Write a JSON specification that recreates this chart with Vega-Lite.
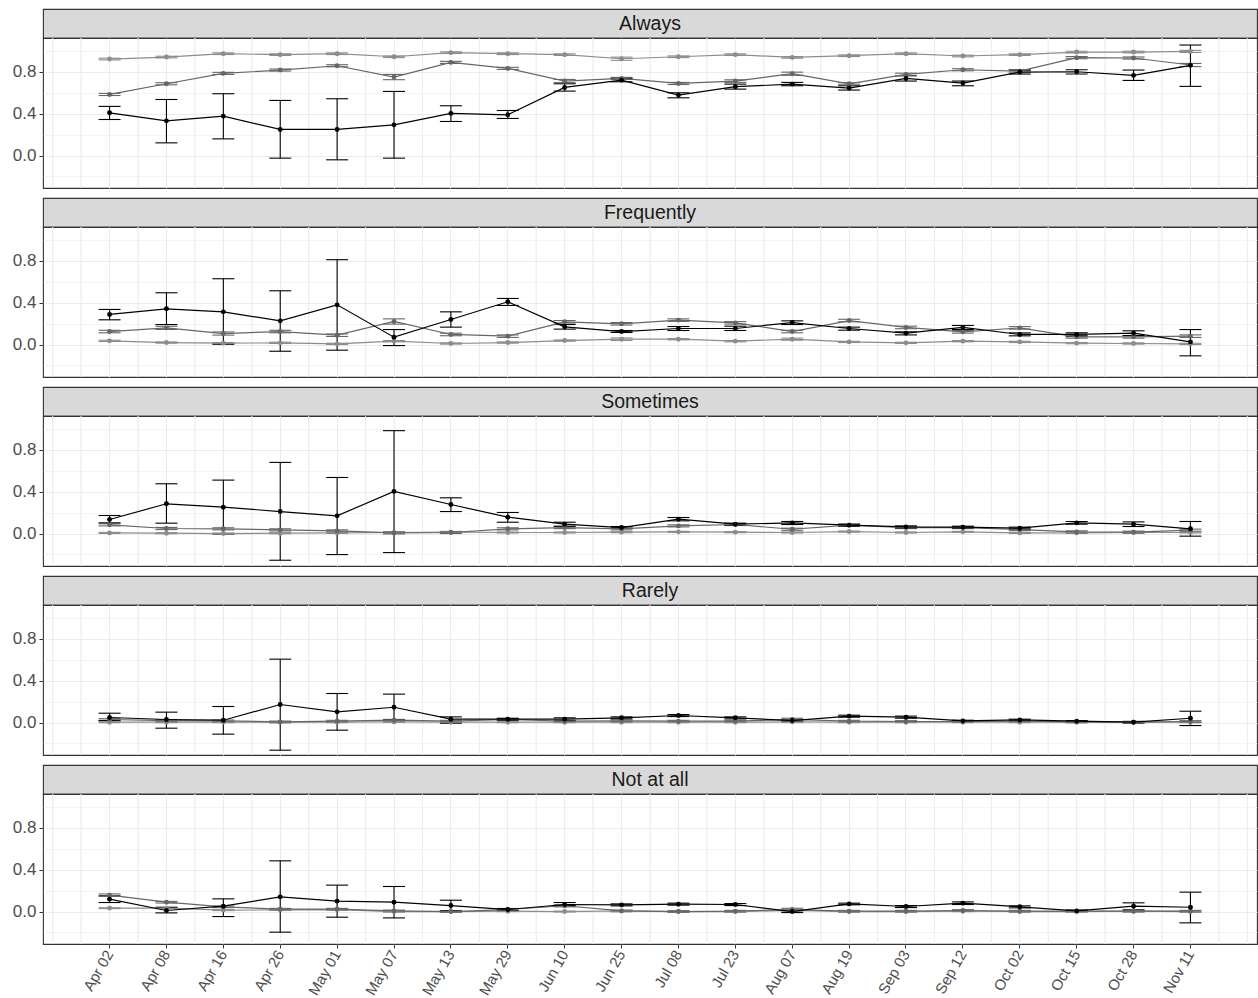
{
"$schema":"https://vega.github.io/schema/vega-lite/v6.json",
"autosize":{"type":"pad"},
"padding":{"left":11,"top":8,"right":1,"bottom":0},
"config":{"font":"Liberation Sans","view":{"stroke":null}},
"data":{"values":[
{"panel":"Always","date":"Apr 02","group":"s1","share":0.921,"lo":0.913,"hi":0.929},
{"panel":"Always","date":"Apr 08","group":"s1","share":0.940,"lo":0.932,"hi":0.948},
{"panel":"Always","date":"Apr 16","group":"s1","share":0.972,"lo":0.964,"hi":0.980},
{"panel":"Always","date":"Apr 26","group":"s1","share":0.963,"lo":0.955,"hi":0.971},
{"panel":"Always","date":"May 01","group":"s1","share":0.972,"lo":0.964,"hi":0.980},
{"panel":"Always","date":"May 07","group":"s1","share":0.943,"lo":0.935,"hi":0.951},
{"panel":"Always","date":"May 13","group":"s1","share":0.982,"lo":0.974,"hi":0.990},
{"panel":"Always","date":"May 29","group":"s1","share":0.972,"lo":0.964,"hi":0.980},
{"panel":"Always","date":"Jun 10","group":"s1","share":0.963,"lo":0.955,"hi":0.971},
{"panel":"Always","date":"Jun 25","group":"s1","share":0.924,"lo":0.909,"hi":0.939},
{"panel":"Always","date":"Jul 08","group":"s1","share":0.943,"lo":0.935,"hi":0.951},
{"panel":"Always","date":"Jul 23","group":"s1","share":0.963,"lo":0.955,"hi":0.971},
{"panel":"Always","date":"Aug 07","group":"s1","share":0.937,"lo":0.929,"hi":0.945},
{"panel":"Always","date":"Aug 19","group":"s1","share":0.953,"lo":0.945,"hi":0.961},
{"panel":"Always","date":"Sep 03","group":"s1","share":0.972,"lo":0.964,"hi":0.980},
{"panel":"Always","date":"Sep 12","group":"s1","share":0.950,"lo":0.942,"hi":0.958},
{"panel":"Always","date":"Oct 02","group":"s1","share":0.963,"lo":0.955,"hi":0.971},
{"panel":"Always","date":"Oct 15","group":"s1","share":0.988,"lo":0.980,"hi":0.996},
{"panel":"Always","date":"Oct 28","group":"s1","share":0.988,"lo":0.980,"hi":0.996},
{"panel":"Always","date":"Nov 11","group":"s1","share":0.994,"lo":0.984,"hi":1.004},
{"panel":"Always","date":"Apr 02","group":"s2","share":0.583,"lo":0.573,"hi":0.593},
{"panel":"Always","date":"Apr 08","group":"s2","share":0.685,"lo":0.675,"hi":0.695},
{"panel":"Always","date":"Apr 16","group":"s2","share":0.784,"lo":0.774,"hi":0.794},
{"panel":"Always","date":"Apr 26","group":"s2","share":0.816,"lo":0.806,"hi":0.826},
{"panel":"Always","date":"May 01","group":"s2","share":0.857,"lo":0.847,"hi":0.867},
{"panel":"Always","date":"May 07","group":"s2","share":0.749,"lo":0.724,"hi":0.774},
{"panel":"Always","date":"May 13","group":"s2","share":0.889,"lo":0.879,"hi":0.899},
{"panel":"Always","date":"May 29","group":"s2","share":0.832,"lo":0.822,"hi":0.842},
{"panel":"Always","date":"Jun 10","group":"s2","share":0.711,"lo":0.696,"hi":0.726},
{"panel":"Always","date":"Jun 25","group":"s2","share":0.736,"lo":0.726,"hi":0.746},
{"panel":"Always","date":"Jul 08","group":"s2","share":0.688,"lo":0.678,"hi":0.698},
{"panel":"Always","date":"Jul 23","group":"s2","share":0.711,"lo":0.699,"hi":0.723},
{"panel":"Always","date":"Aug 07","group":"s2","share":0.781,"lo":0.766,"hi":0.796},
{"panel":"Always","date":"Aug 19","group":"s2","share":0.685,"lo":0.675,"hi":0.695},
{"panel":"Always","date":"Sep 03","group":"s2","share":0.774,"lo":0.762,"hi":0.786},
{"panel":"Always","date":"Sep 12","group":"s2","share":0.819,"lo":0.809,"hi":0.829},
{"panel":"Always","date":"Oct 02","group":"s2","share":0.806,"lo":0.796,"hi":0.816},
{"panel":"Always","date":"Oct 15","group":"s2","share":0.934,"lo":0.924,"hi":0.944},
{"panel":"Always","date":"Oct 28","group":"s2","share":0.931,"lo":0.921,"hi":0.941},
{"panel":"Always","date":"Nov 11","group":"s2","share":0.864,"lo":0.849,"hi":0.879},
{"panel":"Always","date":"Apr 02","group":"s3","share":0.408,"lo":0.344,"hi":0.469},
{"panel":"Always","date":"Apr 08","group":"s3","share":0.331,"lo":0.121,"hi":0.535},
{"panel":"Always","date":"Apr 16","group":"s3","share":0.376,"lo":0.159,"hi":0.590},
{"panel":"Always","date":"Apr 26","group":"s3","share":0.249,"lo":-0.025,"hi":0.526},
{"panel":"Always","date":"May 01","group":"s3","share":0.249,"lo":-0.041,"hi":0.542},
{"panel":"Always","date":"May 07","group":"s3","share":0.293,"lo":-0.025,"hi":0.612},
{"panel":"Always","date":"May 13","group":"s3","share":0.402,"lo":0.325,"hi":0.475},
{"panel":"Always","date":"May 29","group":"s3","share":0.389,"lo":0.354,"hi":0.430},
{"panel":"Always","date":"Jun 10","group":"s3","share":0.650,"lo":0.615,"hi":0.685},
{"panel":"Always","date":"Jun 25","group":"s3","share":0.720,"lo":0.704,"hi":0.736},
{"panel":"Always","date":"Jul 08","group":"s3","share":0.577,"lo":0.551,"hi":0.599},
{"panel":"Always","date":"Jul 23","group":"s3","share":0.657,"lo":0.634,"hi":0.682},
{"panel":"Always","date":"Aug 07","group":"s3","share":0.682,"lo":0.666,"hi":0.698},
{"panel":"Always","date":"Aug 19","group":"s3","share":0.644,"lo":0.625,"hi":0.666},
{"panel":"Always","date":"Sep 03","group":"s3","share":0.736,"lo":0.711,"hi":0.762},
{"panel":"Always","date":"Sep 12","group":"s3","share":0.692,"lo":0.666,"hi":0.711},
{"panel":"Always","date":"Oct 02","group":"s3","share":0.797,"lo":0.778,"hi":0.816},
{"panel":"Always","date":"Oct 15","group":"s3","share":0.800,"lo":0.778,"hi":0.819},
{"panel":"Always","date":"Oct 28","group":"s3","share":0.765,"lo":0.717,"hi":0.816},
{"panel":"Always","date":"Nov 11","group":"s3","share":0.861,"lo":0.660,"hi":1.055},
{"panel":"Frequently","date":"Apr 02","group":"s1","share":0.035,"lo":0.029,"hi":0.041},
{"panel":"Frequently","date":"Apr 08","group":"s1","share":0.019,"lo":0.013,"hi":0.025},
{"panel":"Frequently","date":"Apr 16","group":"s1","share":0.013,"lo":0.007,"hi":0.019},
{"panel":"Frequently","date":"Apr 26","group":"s1","share":0.016,"lo":0.010,"hi":0.022},
{"panel":"Frequently","date":"May 01","group":"s1","share":0.006,"lo":0.000,"hi":0.012},
{"panel":"Frequently","date":"May 07","group":"s1","share":0.032,"lo":0.026,"hi":0.038},
{"panel":"Frequently","date":"May 13","group":"s1","share":0.010,"lo":0.004,"hi":0.016},
{"panel":"Frequently","date":"May 29","group":"s1","share":0.019,"lo":0.013,"hi":0.025},
{"panel":"Frequently","date":"Jun 10","group":"s1","share":0.038,"lo":0.032,"hi":0.044},
{"panel":"Frequently","date":"Jun 25","group":"s1","share":0.051,"lo":0.039,"hi":0.063},
{"panel":"Frequently","date":"Jul 08","group":"s1","share":0.051,"lo":0.045,"hi":0.057},
{"panel":"Frequently","date":"Jul 23","group":"s1","share":0.032,"lo":0.026,"hi":0.038},
{"panel":"Frequently","date":"Aug 07","group":"s1","share":0.051,"lo":0.041,"hi":0.061},
{"panel":"Frequently","date":"Aug 19","group":"s1","share":0.025,"lo":0.019,"hi":0.031},
{"panel":"Frequently","date":"Sep 03","group":"s1","share":0.016,"lo":0.010,"hi":0.022},
{"panel":"Frequently","date":"Sep 12","group":"s1","share":0.032,"lo":0.026,"hi":0.038},
{"panel":"Frequently","date":"Oct 02","group":"s1","share":0.025,"lo":0.019,"hi":0.031},
{"panel":"Frequently","date":"Oct 15","group":"s1","share":0.013,"lo":0.007,"hi":0.019},
{"panel":"Frequently","date":"Oct 28","group":"s1","share":0.010,"lo":0.004,"hi":0.016},
{"panel":"Frequently","date":"Nov 11","group":"s1","share":0.006,"lo":0.000,"hi":0.012},
{"panel":"Frequently","date":"Apr 02","group":"s2","share":0.124,"lo":0.112,"hi":0.136},
{"panel":"Frequently","date":"Apr 08","group":"s2","share":0.159,"lo":0.144,"hi":0.174},
{"panel":"Frequently","date":"Apr 16","group":"s2","share":0.105,"lo":0.090,"hi":0.120},
{"panel":"Frequently","date":"Apr 26","group":"s2","share":0.124,"lo":0.112,"hi":0.136},
{"panel":"Frequently","date":"May 01","group":"s2","share":0.089,"lo":0.077,"hi":0.101},
{"panel":"Frequently","date":"May 07","group":"s2","share":0.220,"lo":0.195,"hi":0.245},
{"panel":"Frequently","date":"May 13","group":"s2","share":0.096,"lo":0.084,"hi":0.108},
{"panel":"Frequently","date":"May 29","group":"s2","share":0.080,"lo":0.068,"hi":0.092},
{"panel":"Frequently","date":"Jun 10","group":"s2","share":0.217,"lo":0.205,"hi":0.229},
{"panel":"Frequently","date":"Jun 25","group":"s2","share":0.198,"lo":0.186,"hi":0.210},
{"panel":"Frequently","date":"Jul 08","group":"s2","share":0.233,"lo":0.221,"hi":0.245},
{"panel":"Frequently","date":"Jul 23","group":"s2","share":0.207,"lo":0.195,"hi":0.219},
{"panel":"Frequently","date":"Aug 07","group":"s2","share":0.124,"lo":0.112,"hi":0.136},
{"panel":"Frequently","date":"Aug 19","group":"s2","share":0.229,"lo":0.217,"hi":0.241},
{"panel":"Frequently","date":"Sep 03","group":"s2","share":0.163,"lo":0.151,"hi":0.175},
{"panel":"Frequently","date":"Sep 12","group":"s2","share":0.121,"lo":0.109,"hi":0.133},
{"panel":"Frequently","date":"Oct 02","group":"s2","share":0.159,"lo":0.147,"hi":0.171},
{"panel":"Frequently","date":"Oct 15","group":"s2","share":0.073,"lo":0.061,"hi":0.085},
{"panel":"Frequently","date":"Oct 28","group":"s2","share":0.073,"lo":0.061,"hi":0.085},
{"panel":"Frequently","date":"Nov 11","group":"s2","share":0.080,"lo":0.068,"hi":0.092},
{"panel":"Frequently","date":"Apr 02","group":"s3","share":0.287,"lo":0.236,"hi":0.335},
{"panel":"Frequently","date":"Apr 08","group":"s3","share":0.341,"lo":0.191,"hi":0.494},
{"panel":"Frequently","date":"Apr 16","group":"s3","share":0.312,"lo":0.003,"hi":0.628},
{"panel":"Frequently","date":"Apr 26","group":"s3","share":0.226,"lo":-0.064,"hi":0.513},
{"panel":"Frequently","date":"May 01","group":"s3","share":0.379,"lo":-0.054,"hi":0.810},
{"panel":"Frequently","date":"May 07","group":"s3","share":0.070,"lo":-0.010,"hi":0.143},
{"panel":"Frequently","date":"May 13","group":"s3","share":0.239,"lo":0.166,"hi":0.312},
{"panel":"Frequently","date":"May 29","group":"s3","share":0.408,"lo":0.373,"hi":0.440},
{"panel":"Frequently","date":"Jun 10","group":"s3","share":0.169,"lo":0.147,"hi":0.191},
{"panel":"Frequently","date":"Jun 25","group":"s3","share":0.124,"lo":0.115,"hi":0.134},
{"panel":"Frequently","date":"Jul 08","group":"s3","share":0.153,"lo":0.134,"hi":0.172},
{"panel":"Frequently","date":"Jul 23","group":"s3","share":0.153,"lo":0.134,"hi":0.175},
{"panel":"Frequently","date":"Aug 07","group":"s3","share":0.210,"lo":0.191,"hi":0.226},
{"panel":"Frequently","date":"Aug 19","group":"s3","share":0.153,"lo":0.137,"hi":0.166},
{"panel":"Frequently","date":"Sep 03","group":"s3","share":0.108,"lo":0.092,"hi":0.121},
{"panel":"Frequently","date":"Sep 12","group":"s3","share":0.163,"lo":0.143,"hi":0.182},
{"panel":"Frequently","date":"Oct 02","group":"s3","share":0.096,"lo":0.083,"hi":0.111},
{"panel":"Frequently","date":"Oct 15","group":"s3","share":0.096,"lo":0.080,"hi":0.111},
{"panel":"Frequently","date":"Oct 28","group":"s3","share":0.108,"lo":0.086,"hi":0.131},
{"panel":"Frequently","date":"Nov 11","group":"s3","share":0.025,"lo":-0.108,"hi":0.143},
{"panel":"Sometimes","date":"Apr 02","group":"s1","share":0.006,"lo":0.001,"hi":0.011},
{"panel":"Sometimes","date":"Apr 08","group":"s1","share":0.003,"lo":-0.002,"hi":0.008},
{"panel":"Sometimes","date":"Apr 16","group":"s1","share":0.000,"lo":-0.005,"hi":0.005},
{"panel":"Sometimes","date":"Apr 26","group":"s1","share":0.003,"lo":-0.002,"hi":0.008},
{"panel":"Sometimes","date":"May 01","group":"s1","share":0.006,"lo":0.001,"hi":0.011},
{"panel":"Sometimes","date":"May 07","group":"s1","share":0.010,"lo":0.005,"hi":0.015},
{"panel":"Sometimes","date":"May 13","group":"s1","share":0.013,"lo":0.008,"hi":0.018},
{"panel":"Sometimes","date":"May 29","group":"s1","share":0.010,"lo":0.005,"hi":0.015},
{"panel":"Sometimes","date":"Jun 10","group":"s1","share":0.010,"lo":0.005,"hi":0.015},
{"panel":"Sometimes","date":"Jun 25","group":"s1","share":0.013,"lo":0.008,"hi":0.018},
{"panel":"Sometimes","date":"Jul 08","group":"s1","share":0.016,"lo":0.011,"hi":0.021},
{"panel":"Sometimes","date":"Jul 23","group":"s1","share":0.013,"lo":0.008,"hi":0.018},
{"panel":"Sometimes","date":"Aug 07","group":"s1","share":0.010,"lo":0.005,"hi":0.015},
{"panel":"Sometimes","date":"Aug 19","group":"s1","share":0.019,"lo":0.014,"hi":0.024},
{"panel":"Sometimes","date":"Sep 03","group":"s1","share":0.010,"lo":0.005,"hi":0.015},
{"panel":"Sometimes","date":"Sep 12","group":"s1","share":0.016,"lo":0.011,"hi":0.021},
{"panel":"Sometimes","date":"Oct 02","group":"s1","share":0.006,"lo":0.001,"hi":0.011},
{"panel":"Sometimes","date":"Oct 15","group":"s1","share":0.006,"lo":0.001,"hi":0.011},
{"panel":"Sometimes","date":"Oct 28","group":"s1","share":0.010,"lo":0.005,"hi":0.015},
{"panel":"Sometimes","date":"Nov 11","group":"s1","share":0.010,"lo":0.005,"hi":0.015},
{"panel":"Sometimes","date":"Apr 02","group":"s2","share":0.083,"lo":0.073,"hi":0.093},
{"panel":"Sometimes","date":"Apr 08","group":"s2","share":0.048,"lo":0.038,"hi":0.058},
{"panel":"Sometimes","date":"Apr 16","group":"s2","share":0.045,"lo":0.035,"hi":0.055},
{"panel":"Sometimes","date":"Apr 26","group":"s2","share":0.035,"lo":0.025,"hi":0.045},
{"panel":"Sometimes","date":"May 01","group":"s2","share":0.025,"lo":0.015,"hi":0.035},
{"panel":"Sometimes","date":"May 07","group":"s2","share":0.006,"lo":-0.004,"hi":0.016},
{"panel":"Sometimes","date":"May 13","group":"s2","share":0.010,"lo":0.000,"hi":0.020},
{"panel":"Sometimes","date":"May 29","group":"s2","share":0.045,"lo":0.035,"hi":0.055},
{"panel":"Sometimes","date":"Jun 10","group":"s2","share":0.057,"lo":0.047,"hi":0.067},
{"panel":"Sometimes","date":"Jun 25","group":"s2","share":0.045,"lo":0.035,"hi":0.055},
{"panel":"Sometimes","date":"Jul 08","group":"s2","share":0.073,"lo":0.063,"hi":0.083},
{"panel":"Sometimes","date":"Jul 23","group":"s2","share":0.086,"lo":0.076,"hi":0.096},
{"panel":"Sometimes","date":"Aug 07","group":"s2","share":0.041,"lo":0.031,"hi":0.051},
{"panel":"Sometimes","date":"Aug 19","group":"s2","share":0.080,"lo":0.070,"hi":0.090},
{"panel":"Sometimes","date":"Sep 03","group":"s2","share":0.057,"lo":0.047,"hi":0.067},
{"panel":"Sometimes","date":"Sep 12","group":"s2","share":0.057,"lo":0.047,"hi":0.067},
{"panel":"Sometimes","date":"Oct 02","group":"s2","share":0.038,"lo":0.028,"hi":0.048},
{"panel":"Sometimes","date":"Oct 15","group":"s2","share":0.015,"lo":0.005,"hi":0.025},
{"panel":"Sometimes","date":"Oct 28","group":"s2","share":0.013,"lo":0.003,"hi":0.023},
{"panel":"Sometimes","date":"Nov 11","group":"s2","share":0.032,"lo":0.022,"hi":0.042},
{"panel":"Sometimes","date":"Apr 02","group":"s3","share":0.134,"lo":0.102,"hi":0.172},
{"panel":"Sometimes","date":"Apr 08","group":"s3","share":0.284,"lo":0.099,"hi":0.475},
{"panel":"Sometimes","date":"Apr 16","group":"s3","share":0.252,"lo":-0.003,"hi":0.510},
{"panel":"Sometimes","date":"Apr 26","group":"s3","share":0.210,"lo":-0.255,"hi":0.679},
{"panel":"Sometimes","date":"May 01","group":"s3","share":0.169,"lo":-0.201,"hi":0.535},
{"panel":"Sometimes","date":"May 07","group":"s3","share":0.402,"lo":-0.182,"hi":0.982},
{"panel":"Sometimes","date":"May 13","group":"s3","share":0.277,"lo":0.210,"hi":0.341},
{"panel":"Sometimes","date":"May 29","group":"s3","share":0.156,"lo":0.108,"hi":0.201},
{"panel":"Sometimes","date":"Jun 10","group":"s3","share":0.089,"lo":0.070,"hi":0.108},
{"panel":"Sometimes","date":"Jun 25","group":"s3","share":0.057,"lo":0.048,"hi":0.067},
{"panel":"Sometimes","date":"Jul 08","group":"s3","share":0.137,"lo":0.121,"hi":0.153},
{"panel":"Sometimes","date":"Jul 23","group":"s3","share":0.089,"lo":0.080,"hi":0.099},
{"panel":"Sometimes","date":"Aug 07","group":"s3","share":0.102,"lo":0.086,"hi":0.115},
{"panel":"Sometimes","date":"Aug 19","group":"s3","share":0.080,"lo":0.070,"hi":0.089},
{"panel":"Sometimes","date":"Sep 03","group":"s3","share":0.064,"lo":0.054,"hi":0.073},
{"panel":"Sometimes","date":"Sep 12","group":"s3","share":0.061,"lo":0.051,"hi":0.070},
{"panel":"Sometimes","date":"Oct 02","group":"s3","share":0.051,"lo":0.041,"hi":0.061},
{"panel":"Sometimes","date":"Oct 15","group":"s3","share":0.102,"lo":0.089,"hi":0.115},
{"panel":"Sometimes","date":"Oct 28","group":"s3","share":0.089,"lo":0.067,"hi":0.111},
{"panel":"Sometimes","date":"Nov 11","group":"s3","share":0.045,"lo":-0.025,"hi":0.115},
{"panel":"Rarely","date":"Apr 02","group":"s1","share":0.003,"lo":-0.001,"hi":0.007},
{"panel":"Rarely","date":"Apr 08","group":"s1","share":0.003,"lo":-0.001,"hi":0.007},
{"panel":"Rarely","date":"Apr 16","group":"s1","share":0.003,"lo":-0.001,"hi":0.007},
{"panel":"Rarely","date":"Apr 26","group":"s1","share":0.003,"lo":-0.001,"hi":0.007},
{"panel":"Rarely","date":"May 01","group":"s1","share":0.003,"lo":-0.001,"hi":0.007},
{"panel":"Rarely","date":"May 07","group":"s1","share":0.006,"lo":0.002,"hi":0.010},
{"panel":"Rarely","date":"May 13","group":"s1","share":0.003,"lo":-0.001,"hi":0.007},
{"panel":"Rarely","date":"May 29","group":"s1","share":0.003,"lo":-0.001,"hi":0.007},
{"panel":"Rarely","date":"Jun 10","group":"s1","share":0.003,"lo":-0.001,"hi":0.007},
{"panel":"Rarely","date":"Jun 25","group":"s1","share":0.003,"lo":-0.001,"hi":0.007},
{"panel":"Rarely","date":"Jul 08","group":"s1","share":0.003,"lo":-0.001,"hi":0.007},
{"panel":"Rarely","date":"Jul 23","group":"s1","share":0.003,"lo":-0.001,"hi":0.007},
{"panel":"Rarely","date":"Aug 07","group":"s1","share":0.006,"lo":0.002,"hi":0.010},
{"panel":"Rarely","date":"Aug 19","group":"s1","share":0.003,"lo":-0.001,"hi":0.007},
{"panel":"Rarely","date":"Sep 03","group":"s1","share":0.003,"lo":-0.001,"hi":0.007},
{"panel":"Rarely","date":"Sep 12","group":"s1","share":0.003,"lo":-0.001,"hi":0.007},
{"panel":"Rarely","date":"Oct 02","group":"s1","share":0.003,"lo":-0.001,"hi":0.007},
{"panel":"Rarely","date":"Oct 15","group":"s1","share":0.003,"lo":-0.001,"hi":0.007},
{"panel":"Rarely","date":"Oct 28","group":"s1","share":0.003,"lo":-0.001,"hi":0.007},
{"panel":"Rarely","date":"Nov 11","group":"s1","share":0.003,"lo":-0.001,"hi":0.007},
{"panel":"Rarely","date":"Apr 02","group":"s2","share":0.029,"lo":0.021,"hi":0.037},
{"panel":"Rarely","date":"Apr 08","group":"s2","share":0.019,"lo":0.011,"hi":0.027},
{"panel":"Rarely","date":"Apr 16","group":"s2","share":0.016,"lo":0.008,"hi":0.024},
{"panel":"Rarely","date":"Apr 26","group":"s2","share":0.006,"lo":-0.002,"hi":0.014},
{"panel":"Rarely","date":"May 01","group":"s2","share":0.013,"lo":0.005,"hi":0.021},
{"panel":"Rarely","date":"May 07","group":"s2","share":0.022,"lo":0.014,"hi":0.030},
{"panel":"Rarely","date":"May 13","group":"s2","share":0.013,"lo":0.005,"hi":0.021},
{"panel":"Rarely","date":"May 29","group":"s2","share":0.029,"lo":0.021,"hi":0.037},
{"panel":"Rarely","date":"Jun 10","group":"s2","share":0.013,"lo":0.005,"hi":0.021},
{"panel":"Rarely","date":"Jun 25","group":"s2","share":0.016,"lo":0.008,"hi":0.024},
{"panel":"Rarely","date":"Jul 08","group":"s2","share":0.013,"lo":0.005,"hi":0.021},
{"panel":"Rarely","date":"Jul 23","group":"s2","share":0.013,"lo":0.005,"hi":0.021},
{"panel":"Rarely","date":"Aug 07","group":"s2","share":0.029,"lo":0.017,"hi":0.041},
{"panel":"Rarely","date":"Aug 19","group":"s2","share":0.013,"lo":0.005,"hi":0.021},
{"panel":"Rarely","date":"Sep 03","group":"s2","share":0.010,"lo":0.002,"hi":0.018},
{"panel":"Rarely","date":"Sep 12","group":"s2","share":0.010,"lo":0.002,"hi":0.018},
{"panel":"Rarely","date":"Oct 02","group":"s2","share":0.013,"lo":0.005,"hi":0.021},
{"panel":"Rarely","date":"Oct 15","group":"s2","share":0.006,"lo":-0.002,"hi":0.014},
{"panel":"Rarely","date":"Oct 28","group":"s2","share":0.003,"lo":-0.005,"hi":0.011},
{"panel":"Rarely","date":"Nov 11","group":"s2","share":0.010,"lo":0.002,"hi":0.018},
{"panel":"Rarely","date":"Apr 02","group":"s3","share":0.048,"lo":0.019,"hi":0.089},
{"panel":"Rarely","date":"Apr 08","group":"s3","share":0.029,"lo":-0.054,"hi":0.099},
{"panel":"Rarely","date":"Apr 16","group":"s3","share":0.022,"lo":-0.111,"hi":0.153},
{"panel":"Rarely","date":"Apr 26","group":"s3","share":0.172,"lo":-0.264,"hi":0.605},
{"panel":"Rarely","date":"May 01","group":"s3","share":0.102,"lo":-0.073,"hi":0.277},
{"panel":"Rarely","date":"May 07","group":"s3","share":0.146,"lo":0.022,"hi":0.271},
{"panel":"Rarely","date":"May 13","group":"s3","share":0.032,"lo":-0.006,"hi":0.054},
{"panel":"Rarely","date":"May 29","group":"s3","share":0.032,"lo":0.022,"hi":0.041},
{"panel":"Rarely","date":"Jun 10","group":"s3","share":0.032,"lo":0.019,"hi":0.045},
{"panel":"Rarely","date":"Jun 25","group":"s3","share":0.045,"lo":0.035,"hi":0.054},
{"panel":"Rarely","date":"Jul 08","group":"s3","share":0.067,"lo":0.057,"hi":0.076},
{"panel":"Rarely","date":"Jul 23","group":"s3","share":0.045,"lo":0.035,"hi":0.054},
{"panel":"Rarely","date":"Aug 07","group":"s3","share":0.019,"lo":0.010,"hi":0.029},
{"panel":"Rarely","date":"Aug 19","group":"s3","share":0.061,"lo":0.051,"hi":0.070},
{"panel":"Rarely","date":"Sep 03","group":"s3","share":0.051,"lo":0.041,"hi":0.061},
{"panel":"Rarely","date":"Sep 12","group":"s3","share":0.016,"lo":0.010,"hi":0.022},
{"panel":"Rarely","date":"Oct 02","group":"s3","share":0.025,"lo":0.016,"hi":0.032},
{"panel":"Rarely","date":"Oct 15","group":"s3","share":0.013,"lo":0.006,"hi":0.019},
{"panel":"Rarely","date":"Oct 28","group":"s3","share":0.003,"lo":-0.003,"hi":0.010},
{"panel":"Rarely","date":"Nov 11","group":"s3","share":0.041,"lo":-0.029,"hi":0.108},
{"panel":"Not at all","date":"Apr 02","group":"s1","share":0.032,"lo":0.028,"hi":0.036},
{"panel":"Not at all","date":"Apr 08","group":"s1","share":0.032,"lo":0.028,"hi":0.036},
{"panel":"Not at all","date":"Apr 16","group":"s1","share":0.013,"lo":0.009,"hi":0.017},
{"panel":"Not at all","date":"Apr 26","group":"s1","share":0.016,"lo":0.012,"hi":0.020},
{"panel":"Not at all","date":"May 01","group":"s1","share":0.019,"lo":0.015,"hi":0.023},
{"panel":"Not at all","date":"May 07","group":"s1","share":0.000,"lo":-0.004,"hi":0.004},
{"panel":"Not at all","date":"May 13","group":"s1","share":0.000,"lo":-0.004,"hi":0.004},
{"panel":"Not at all","date":"May 29","group":"s1","share":0.003,"lo":-0.001,"hi":0.007},
{"panel":"Not at all","date":"Jun 10","group":"s1","share":0.000,"lo":-0.004,"hi":0.004},
{"panel":"Not at all","date":"Jun 25","group":"s1","share":0.006,"lo":0.002,"hi":0.010},
{"panel":"Not at all","date":"Jul 08","group":"s1","share":0.000,"lo":-0.004,"hi":0.004},
{"panel":"Not at all","date":"Jul 23","group":"s1","share":0.000,"lo":-0.004,"hi":0.004},
{"panel":"Not at all","date":"Aug 07","group":"s1","share":0.010,"lo":0.006,"hi":0.014},
{"panel":"Not at all","date":"Aug 19","group":"s1","share":0.000,"lo":-0.004,"hi":0.004},
{"panel":"Not at all","date":"Sep 03","group":"s1","share":0.000,"lo":-0.004,"hi":0.004},
{"panel":"Not at all","date":"Sep 12","group":"s1","share":0.003,"lo":-0.001,"hi":0.007},
{"panel":"Not at all","date":"Oct 02","group":"s1","share":0.000,"lo":-0.004,"hi":0.004},
{"panel":"Not at all","date":"Oct 15","group":"s1","share":0.000,"lo":-0.004,"hi":0.004},
{"panel":"Not at all","date":"Oct 28","group":"s1","share":0.003,"lo":-0.001,"hi":0.007},
{"panel":"Not at all","date":"Nov 11","group":"s1","share":0.000,"lo":-0.004,"hi":0.004},
{"panel":"Not at all","date":"Apr 02","group":"s2","share":0.156,"lo":0.144,"hi":0.168},
{"panel":"Not at all","date":"Apr 08","group":"s2","share":0.089,"lo":0.081,"hi":0.097},
{"panel":"Not at all","date":"Apr 16","group":"s2","share":0.045,"lo":0.037,"hi":0.053},
{"panel":"Not at all","date":"Apr 26","group":"s2","share":0.022,"lo":0.014,"hi":0.030},
{"panel":"Not at all","date":"May 01","group":"s2","share":0.022,"lo":0.014,"hi":0.030},
{"panel":"Not at all","date":"May 07","group":"s2","share":0.006,"lo":-0.002,"hi":0.014},
{"panel":"Not at all","date":"May 13","group":"s2","share":0.000,"lo":-0.008,"hi":0.008},
{"panel":"Not at all","date":"May 29","group":"s2","share":0.019,"lo":0.011,"hi":0.027},
{"panel":"Not at all","date":"Jun 10","group":"s2","share":0.055,"lo":0.045,"hi":0.065},
{"panel":"Not at all","date":"Jun 25","group":"s2","share":0.006,"lo":-0.002,"hi":0.014},
{"panel":"Not at all","date":"Jul 08","group":"s2","share":0.000,"lo":-0.008,"hi":0.008},
{"panel":"Not at all","date":"Jul 23","group":"s2","share":0.003,"lo":-0.005,"hi":0.011},
{"panel":"Not at all","date":"Aug 07","group":"s2","share":0.019,"lo":0.007,"hi":0.031},
{"panel":"Not at all","date":"Aug 19","group":"s2","share":0.003,"lo":-0.005,"hi":0.011},
{"panel":"Not at all","date":"Sep 03","group":"s2","share":0.003,"lo":-0.005,"hi":0.011},
{"panel":"Not at all","date":"Sep 12","group":"s2","share":0.010,"lo":0.002,"hi":0.018},
{"panel":"Not at all","date":"Oct 02","group":"s2","share":0.003,"lo":-0.005,"hi":0.011},
{"panel":"Not at all","date":"Oct 15","group":"s2","share":0.003,"lo":-0.005,"hi":0.011},
{"panel":"Not at all","date":"Oct 28","group":"s2","share":0.003,"lo":-0.005,"hi":0.011},
{"panel":"Not at all","date":"Nov 11","group":"s2","share":0.003,"lo":-0.005,"hi":0.011},
{"panel":"Not at all","date":"Apr 02","group":"s3","share":0.118,"lo":0.086,"hi":0.150},
{"panel":"Not at all","date":"Apr 08","group":"s3","share":0.010,"lo":-0.013,"hi":0.041},
{"panel":"Not at all","date":"Apr 16","group":"s3","share":0.051,"lo":-0.048,"hi":0.121},
{"panel":"Not at all","date":"Apr 26","group":"s3","share":0.140,"lo":-0.197,"hi":0.484},
{"panel":"Not at all","date":"May 01","group":"s3","share":0.099,"lo":-0.054,"hi":0.252},
{"panel":"Not at all","date":"May 07","group":"s3","share":0.089,"lo":-0.061,"hi":0.239},
{"panel":"Not at all","date":"May 13","group":"s3","share":0.057,"lo":0.006,"hi":0.108},
{"panel":"Not at all","date":"May 29","group":"s3","share":0.019,"lo":0.010,"hi":0.029},
{"panel":"Not at all","date":"Jun 10","group":"s3","share":0.067,"lo":0.057,"hi":0.086},
{"panel":"Not at all","date":"Jun 25","group":"s3","share":0.064,"lo":0.054,"hi":0.073},
{"panel":"Not at all","date":"Jul 08","group":"s3","share":0.070,"lo":0.061,"hi":0.080},
{"panel":"Not at all","date":"Jul 23","group":"s3","share":0.067,"lo":0.057,"hi":0.076},
{"panel":"Not at all","date":"Aug 07","group":"s3","share":0.000,"lo":-0.010,"hi":0.010},
{"panel":"Not at all","date":"Aug 19","group":"s3","share":0.073,"lo":0.064,"hi":0.080},
{"panel":"Not at all","date":"Sep 03","group":"s3","share":0.048,"lo":0.038,"hi":0.057},
{"panel":"Not at all","date":"Sep 12","group":"s3","share":0.080,"lo":0.067,"hi":0.092},
{"panel":"Not at all","date":"Oct 02","group":"s3","share":0.045,"lo":0.035,"hi":0.054},
{"panel":"Not at all","date":"Oct 15","group":"s3","share":0.006,"lo":0.000,"hi":0.013},
{"panel":"Not at all","date":"Oct 28","group":"s3","share":0.051,"lo":0.016,"hi":0.083},
{"panel":"Not at all","date":"Nov 11","group":"s3","share":0.041,"lo":-0.108,"hi":0.185}
]},
"spacing":8,
"vconcat":[
{"spacing":0,"bounds":"flush","vconcat":[
 {"width":1214,"height":29,"view":{"fill":"#D9D9D9","stroke":"#333333","strokeWidth":1.1},
  "transform":[{"filter":"datum.panel === 'Always'"},{"aggregate":[{"op":"count","as":"n"}],"groupby":["panel"]}],
  "mark":{"type":"text","fontSize":19.5,"color":"#1A1A1A"},"encoding":{"text":{"field":"panel","type":"nominal"}}},
 {"width":1214,"height":150,"view":{"fill":"white","stroke":"#333333","strokeWidth":1.1},
  "transform":[{"filter":"datum.panel === 'Always'"}],
  "resolve":{"axis":{"y":"independent"}},
  "encoding":{"x":{"field":"date","type":"ordinal","title":null,"scale":{"type":"band","domain":["Apr 02","Apr 08","Apr 16","Apr 26","May 01","May 07","May 13","May 29","Jun 10","Jun 25","Jul 08","Jul 23","Aug 07","Aug 19","Sep 03","Sep 12","Oct 02","Oct 15","Oct 28","Nov 11"],"paddingInner":0,"paddingOuter":0.67},
   "axis":{"labels":false,"ticks":false,"domain":false,"grid":true,"gridColor":"#EBEBEB","gridWidth":1.1}}},
  "layer":[
   {"mark":{"type":"rule","color":"#EBEBEB","strokeWidth":0.55},"encoding":{"x":{"field":"date","type":"ordinal","bandPosition":0,"title":null}}},
   {"transform":[{"filter":"datum.date === 'Nov 11'"}],"mark":{"type":"rule","color":"#EBEBEB","strokeWidth":0.55},"encoding":{"x":{"field":"date","type":"ordinal","bandPosition":1,"title":null}}},
   {"transform":[{"filter":"datum.date === 'Nov 11'"}],"mark":{"type":"rule","color":"#EBEBEB","strokeWidth":0.55},"encoding":{"x":{"field":"date","type":"ordinal","bandPosition":1.5,"title":null}}},
   {"transform":[{"filter":"datum.date === 'Apr 02'"}],"mark":{"type":"rule","color":"#EBEBEB","strokeWidth":0.55},"encoding":{"x":{"field":"date","type":"ordinal","bandPosition":-0.5,"title":null}}},
   {"mark":{"type":"rule","strokeWidth":1.1},"encoding":{"y":{"field":"lo","type":"quantitative","title":null,"axis":null,"scale":{"domain":[-0.31,1.122],"nice":false,"zero":false}},"y2":{"field":"hi"},"color":{"field":"group","type":"nominal","scale":{"domain":["s1","s2","s3"],"range":["#8C8C8C","#666666","#000000"]},"legend":null}}},
   {"mark":{"type":"tick","thickness":1.1,"size":22,"opacity":1},"encoding":{"y":{"field":"hi","type":"quantitative","title":null,"axis":null},"color":{"field":"group","type":"nominal","legend":null}}},
   {"mark":{"type":"tick","thickness":1.1,"size":22,"opacity":1},"encoding":{"y":{"field":"lo","type":"quantitative","title":null,"axis":null},"color":{"field":"group","type":"nominal","legend":null}}},
   {"mark":{"type":"line","strokeWidth":1.2},"encoding":{"y":{"field":"share","type":"quantitative","title":null,"axis":{"orient":"left","values":[0,0.4,0.8],"format":".1f","domain":false,"tickColor":"#333333","tickSize":4,"labelColor":"#4D4D4D","labelFontSize":17,"labelPadding":3,"grid":true,"gridColor":"#EBEBEB","gridWidth":1.1}},"color":{"field":"group","type":"nominal","legend":null}}},
   {"mark":{"type":"point","filled":true,"size":24,"opacity":1},"encoding":{"y":{"field":"share","type":"quantitative","title":null,"axis":{"orient":"right","values":[-0.2,0.2,0.6,1.0],"labels":false,"ticks":false,"domain":false,"grid":true,"gridColor":"#EBEBEB","gridWidth":0.55}},"color":{"field":"group","type":"nominal","legend":null}}}
  ]}
]},
{"spacing":0,"bounds":"flush","vconcat":[
 {"width":1214,"height":29,"view":{"fill":"#D9D9D9","stroke":"#333333","strokeWidth":1.1},
  "transform":[{"filter":"datum.panel === 'Frequently'"},{"aggregate":[{"op":"count","as":"n"}],"groupby":["panel"]}],
  "mark":{"type":"text","fontSize":19.5,"color":"#1A1A1A"},"encoding":{"text":{"field":"panel","type":"nominal"}}},
 {"width":1214,"height":150,"view":{"fill":"white","stroke":"#333333","strokeWidth":1.1},
  "transform":[{"filter":"datum.panel === 'Frequently'"}],
  "resolve":{"axis":{"y":"independent"}},
  "encoding":{"x":{"field":"date","type":"ordinal","title":null,"scale":{"type":"band","domain":["Apr 02","Apr 08","Apr 16","Apr 26","May 01","May 07","May 13","May 29","Jun 10","Jun 25","Jul 08","Jul 23","Aug 07","Aug 19","Sep 03","Sep 12","Oct 02","Oct 15","Oct 28","Nov 11"],"paddingInner":0,"paddingOuter":0.67},
   "axis":{"labels":false,"ticks":false,"domain":false,"grid":true,"gridColor":"#EBEBEB","gridWidth":1.1}}},
  "layer":[
   {"mark":{"type":"rule","color":"#EBEBEB","strokeWidth":0.55},"encoding":{"x":{"field":"date","type":"ordinal","bandPosition":0,"title":null}}},
   {"transform":[{"filter":"datum.date === 'Nov 11'"}],"mark":{"type":"rule","color":"#EBEBEB","strokeWidth":0.55},"encoding":{"x":{"field":"date","type":"ordinal","bandPosition":1,"title":null}}},
   {"transform":[{"filter":"datum.date === 'Nov 11'"}],"mark":{"type":"rule","color":"#EBEBEB","strokeWidth":0.55},"encoding":{"x":{"field":"date","type":"ordinal","bandPosition":1.5,"title":null}}},
   {"transform":[{"filter":"datum.date === 'Apr 02'"}],"mark":{"type":"rule","color":"#EBEBEB","strokeWidth":0.55},"encoding":{"x":{"field":"date","type":"ordinal","bandPosition":-0.5,"title":null}}},
   {"mark":{"type":"rule","strokeWidth":1.1},"encoding":{"y":{"field":"lo","type":"quantitative","title":null,"axis":null,"scale":{"domain":[-0.31,1.122],"nice":false,"zero":false}},"y2":{"field":"hi"},"color":{"field":"group","type":"nominal","scale":{"domain":["s1","s2","s3"],"range":["#8C8C8C","#666666","#000000"]},"legend":null}}},
   {"mark":{"type":"tick","thickness":1.1,"size":22,"opacity":1},"encoding":{"y":{"field":"hi","type":"quantitative","title":null,"axis":null},"color":{"field":"group","type":"nominal","legend":null}}},
   {"mark":{"type":"tick","thickness":1.1,"size":22,"opacity":1},"encoding":{"y":{"field":"lo","type":"quantitative","title":null,"axis":null},"color":{"field":"group","type":"nominal","legend":null}}},
   {"mark":{"type":"line","strokeWidth":1.2},"encoding":{"y":{"field":"share","type":"quantitative","title":null,"axis":{"orient":"left","values":[0,0.4,0.8],"format":".1f","domain":false,"tickColor":"#333333","tickSize":4,"labelColor":"#4D4D4D","labelFontSize":17,"labelPadding":3,"grid":true,"gridColor":"#EBEBEB","gridWidth":1.1}},"color":{"field":"group","type":"nominal","legend":null}}},
   {"mark":{"type":"point","filled":true,"size":24,"opacity":1},"encoding":{"y":{"field":"share","type":"quantitative","title":null,"axis":{"orient":"right","values":[-0.2,0.2,0.6,1.0],"labels":false,"ticks":false,"domain":false,"grid":true,"gridColor":"#EBEBEB","gridWidth":0.55}},"color":{"field":"group","type":"nominal","legend":null}}}
  ]}
]},
{"spacing":0,"bounds":"flush","vconcat":[
 {"width":1214,"height":29,"view":{"fill":"#D9D9D9","stroke":"#333333","strokeWidth":1.1},
  "transform":[{"filter":"datum.panel === 'Sometimes'"},{"aggregate":[{"op":"count","as":"n"}],"groupby":["panel"]}],
  "mark":{"type":"text","fontSize":19.5,"color":"#1A1A1A"},"encoding":{"text":{"field":"panel","type":"nominal"}}},
 {"width":1214,"height":150,"view":{"fill":"white","stroke":"#333333","strokeWidth":1.1},
  "transform":[{"filter":"datum.panel === 'Sometimes'"}],
  "resolve":{"axis":{"y":"independent"}},
  "encoding":{"x":{"field":"date","type":"ordinal","title":null,"scale":{"type":"band","domain":["Apr 02","Apr 08","Apr 16","Apr 26","May 01","May 07","May 13","May 29","Jun 10","Jun 25","Jul 08","Jul 23","Aug 07","Aug 19","Sep 03","Sep 12","Oct 02","Oct 15","Oct 28","Nov 11"],"paddingInner":0,"paddingOuter":0.67},
   "axis":{"labels":false,"ticks":false,"domain":false,"grid":true,"gridColor":"#EBEBEB","gridWidth":1.1}}},
  "layer":[
   {"mark":{"type":"rule","color":"#EBEBEB","strokeWidth":0.55},"encoding":{"x":{"field":"date","type":"ordinal","bandPosition":0,"title":null}}},
   {"transform":[{"filter":"datum.date === 'Nov 11'"}],"mark":{"type":"rule","color":"#EBEBEB","strokeWidth":0.55},"encoding":{"x":{"field":"date","type":"ordinal","bandPosition":1,"title":null}}},
   {"transform":[{"filter":"datum.date === 'Nov 11'"}],"mark":{"type":"rule","color":"#EBEBEB","strokeWidth":0.55},"encoding":{"x":{"field":"date","type":"ordinal","bandPosition":1.5,"title":null}}},
   {"transform":[{"filter":"datum.date === 'Apr 02'"}],"mark":{"type":"rule","color":"#EBEBEB","strokeWidth":0.55},"encoding":{"x":{"field":"date","type":"ordinal","bandPosition":-0.5,"title":null}}},
   {"mark":{"type":"rule","strokeWidth":1.1},"encoding":{"y":{"field":"lo","type":"quantitative","title":null,"axis":null,"scale":{"domain":[-0.31,1.122],"nice":false,"zero":false}},"y2":{"field":"hi"},"color":{"field":"group","type":"nominal","scale":{"domain":["s1","s2","s3"],"range":["#8C8C8C","#666666","#000000"]},"legend":null}}},
   {"mark":{"type":"tick","thickness":1.1,"size":22,"opacity":1},"encoding":{"y":{"field":"hi","type":"quantitative","title":null,"axis":null},"color":{"field":"group","type":"nominal","legend":null}}},
   {"mark":{"type":"tick","thickness":1.1,"size":22,"opacity":1},"encoding":{"y":{"field":"lo","type":"quantitative","title":null,"axis":null},"color":{"field":"group","type":"nominal","legend":null}}},
   {"mark":{"type":"line","strokeWidth":1.2},"encoding":{"y":{"field":"share","type":"quantitative","title":null,"axis":{"orient":"left","values":[0,0.4,0.8],"format":".1f","domain":false,"tickColor":"#333333","tickSize":4,"labelColor":"#4D4D4D","labelFontSize":17,"labelPadding":3,"grid":true,"gridColor":"#EBEBEB","gridWidth":1.1}},"color":{"field":"group","type":"nominal","legend":null}}},
   {"mark":{"type":"point","filled":true,"size":24,"opacity":1},"encoding":{"y":{"field":"share","type":"quantitative","title":null,"axis":{"orient":"right","values":[-0.2,0.2,0.6,1.0],"labels":false,"ticks":false,"domain":false,"grid":true,"gridColor":"#EBEBEB","gridWidth":0.55}},"color":{"field":"group","type":"nominal","legend":null}}}
  ]}
]},
{"spacing":0,"bounds":"flush","vconcat":[
 {"width":1214,"height":29,"view":{"fill":"#D9D9D9","stroke":"#333333","strokeWidth":1.1},
  "transform":[{"filter":"datum.panel === 'Rarely'"},{"aggregate":[{"op":"count","as":"n"}],"groupby":["panel"]}],
  "mark":{"type":"text","fontSize":19.5,"color":"#1A1A1A"},"encoding":{"text":{"field":"panel","type":"nominal"}}},
 {"width":1214,"height":150,"view":{"fill":"white","stroke":"#333333","strokeWidth":1.1},
  "transform":[{"filter":"datum.panel === 'Rarely'"}],
  "resolve":{"axis":{"y":"independent"}},
  "encoding":{"x":{"field":"date","type":"ordinal","title":null,"scale":{"type":"band","domain":["Apr 02","Apr 08","Apr 16","Apr 26","May 01","May 07","May 13","May 29","Jun 10","Jun 25","Jul 08","Jul 23","Aug 07","Aug 19","Sep 03","Sep 12","Oct 02","Oct 15","Oct 28","Nov 11"],"paddingInner":0,"paddingOuter":0.67},
   "axis":{"labels":false,"ticks":false,"domain":false,"grid":true,"gridColor":"#EBEBEB","gridWidth":1.1}}},
  "layer":[
   {"mark":{"type":"rule","color":"#EBEBEB","strokeWidth":0.55},"encoding":{"x":{"field":"date","type":"ordinal","bandPosition":0,"title":null}}},
   {"transform":[{"filter":"datum.date === 'Nov 11'"}],"mark":{"type":"rule","color":"#EBEBEB","strokeWidth":0.55},"encoding":{"x":{"field":"date","type":"ordinal","bandPosition":1,"title":null}}},
   {"transform":[{"filter":"datum.date === 'Nov 11'"}],"mark":{"type":"rule","color":"#EBEBEB","strokeWidth":0.55},"encoding":{"x":{"field":"date","type":"ordinal","bandPosition":1.5,"title":null}}},
   {"transform":[{"filter":"datum.date === 'Apr 02'"}],"mark":{"type":"rule","color":"#EBEBEB","strokeWidth":0.55},"encoding":{"x":{"field":"date","type":"ordinal","bandPosition":-0.5,"title":null}}},
   {"mark":{"type":"rule","strokeWidth":1.1},"encoding":{"y":{"field":"lo","type":"quantitative","title":null,"axis":null,"scale":{"domain":[-0.31,1.122],"nice":false,"zero":false}},"y2":{"field":"hi"},"color":{"field":"group","type":"nominal","scale":{"domain":["s1","s2","s3"],"range":["#8C8C8C","#666666","#000000"]},"legend":null}}},
   {"mark":{"type":"tick","thickness":1.1,"size":22,"opacity":1},"encoding":{"y":{"field":"hi","type":"quantitative","title":null,"axis":null},"color":{"field":"group","type":"nominal","legend":null}}},
   {"mark":{"type":"tick","thickness":1.1,"size":22,"opacity":1},"encoding":{"y":{"field":"lo","type":"quantitative","title":null,"axis":null},"color":{"field":"group","type":"nominal","legend":null}}},
   {"mark":{"type":"line","strokeWidth":1.2},"encoding":{"y":{"field":"share","type":"quantitative","title":null,"axis":{"orient":"left","values":[0,0.4,0.8],"format":".1f","domain":false,"tickColor":"#333333","tickSize":4,"labelColor":"#4D4D4D","labelFontSize":17,"labelPadding":3,"grid":true,"gridColor":"#EBEBEB","gridWidth":1.1}},"color":{"field":"group","type":"nominal","legend":null}}},
   {"mark":{"type":"point","filled":true,"size":24,"opacity":1},"encoding":{"y":{"field":"share","type":"quantitative","title":null,"axis":{"orient":"right","values":[-0.2,0.2,0.6,1.0],"labels":false,"ticks":false,"domain":false,"grid":true,"gridColor":"#EBEBEB","gridWidth":0.55}},"color":{"field":"group","type":"nominal","legend":null}}}
  ]}
]},
{"spacing":0,"bounds":"flush","vconcat":[
 {"width":1214,"height":29,"view":{"fill":"#D9D9D9","stroke":"#333333","strokeWidth":1.1},
  "transform":[{"filter":"datum.panel === 'Not at all'"},{"aggregate":[{"op":"count","as":"n"}],"groupby":["panel"]}],
  "mark":{"type":"text","fontSize":19.5,"color":"#1A1A1A"},"encoding":{"text":{"field":"panel","type":"nominal"}}},
 {"width":1214,"height":150,"view":{"fill":"white","stroke":"#333333","strokeWidth":1.1},
  "transform":[{"filter":"datum.panel === 'Not at all'"}],
  "resolve":{"axis":{"y":"independent"}},
  "encoding":{"x":{"field":"date","type":"ordinal","title":null,"scale":{"type":"band","domain":["Apr 02","Apr 08","Apr 16","Apr 26","May 01","May 07","May 13","May 29","Jun 10","Jun 25","Jul 08","Jul 23","Aug 07","Aug 19","Sep 03","Sep 12","Oct 02","Oct 15","Oct 28","Nov 11"],"paddingInner":0,"paddingOuter":0.67},
   "axis":{"labels":true,"ticks":true,"tickColor":"#333333","tickSize":4,"domain":false,"grid":true,"gridColor":"#EBEBEB","gridWidth":1.1,"labelAngle":-60,"labelAlign":"right","labelBaseline":"middle","labelFontSize":15,"labelColor":"#4D4D4D","labelPadding":3}}},
  "layer":[
   {"mark":{"type":"rule","color":"#EBEBEB","strokeWidth":0.55},"encoding":{"x":{"field":"date","type":"ordinal","bandPosition":0,"title":null}}},
   {"transform":[{"filter":"datum.date === 'Nov 11'"}],"mark":{"type":"rule","color":"#EBEBEB","strokeWidth":0.55},"encoding":{"x":{"field":"date","type":"ordinal","bandPosition":1,"title":null}}},
   {"transform":[{"filter":"datum.date === 'Nov 11'"}],"mark":{"type":"rule","color":"#EBEBEB","strokeWidth":0.55},"encoding":{"x":{"field":"date","type":"ordinal","bandPosition":1.5,"title":null}}},
   {"transform":[{"filter":"datum.date === 'Apr 02'"}],"mark":{"type":"rule","color":"#EBEBEB","strokeWidth":0.55},"encoding":{"x":{"field":"date","type":"ordinal","bandPosition":-0.5,"title":null}}},
   {"mark":{"type":"rule","strokeWidth":1.1},"encoding":{"y":{"field":"lo","type":"quantitative","title":null,"axis":null,"scale":{"domain":[-0.31,1.122],"nice":false,"zero":false}},"y2":{"field":"hi"},"color":{"field":"group","type":"nominal","scale":{"domain":["s1","s2","s3"],"range":["#8C8C8C","#666666","#000000"]},"legend":null}}},
   {"mark":{"type":"tick","thickness":1.1,"size":22,"opacity":1},"encoding":{"y":{"field":"hi","type":"quantitative","title":null,"axis":null},"color":{"field":"group","type":"nominal","legend":null}}},
   {"mark":{"type":"tick","thickness":1.1,"size":22,"opacity":1},"encoding":{"y":{"field":"lo","type":"quantitative","title":null,"axis":null},"color":{"field":"group","type":"nominal","legend":null}}},
   {"mark":{"type":"line","strokeWidth":1.2},"encoding":{"y":{"field":"share","type":"quantitative","title":null,"axis":{"orient":"left","values":[0,0.4,0.8],"format":".1f","domain":false,"tickColor":"#333333","tickSize":4,"labelColor":"#4D4D4D","labelFontSize":17,"labelPadding":3,"grid":true,"gridColor":"#EBEBEB","gridWidth":1.1}},"color":{"field":"group","type":"nominal","legend":null}}},
   {"mark":{"type":"point","filled":true,"size":24,"opacity":1},"encoding":{"y":{"field":"share","type":"quantitative","title":null,"axis":{"orient":"right","values":[-0.2,0.2,0.6,1.0],"labels":false,"ticks":false,"domain":false,"grid":true,"gridColor":"#EBEBEB","gridWidth":0.55}},"color":{"field":"group","type":"nominal","legend":null}}}
  ]}
]}
]
}
